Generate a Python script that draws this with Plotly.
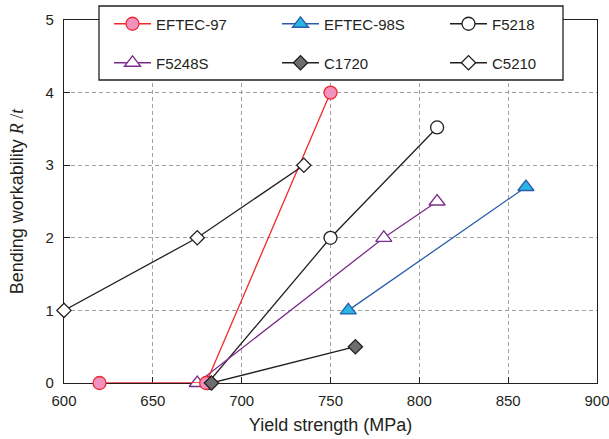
import plotly.graph_objects as go

# ---- data ----
eftec97_x = [620, 680, 750]
eftec97_y = [0, 0, 4]
eftec98s_x = [760, 860]
eftec98s_y = [1, 2.7]
f5218_x = [681, 750, 810]
f5218_y = [0, 2, 3.52]
f5248s_x = [675, 780, 810]
f5248s_y = [0, 2, 2.5]
c1720_x = [683, 764]
c1720_y = [0, 0.5]
c5210_x = [600, 675, 735]
c5210_y = [1, 2, 3]

x_ticks = [600, 650, 700, 750, 800, 850, 900]
y_ticks = [0, 1, 2, 3, 4, 5]

FONT = "Liberation Sans, Arial, sans-serif"
INK = "#231F20"

# plot area in px: x 64..597, y 20..383
L, R, T, B = 64, 12, 20, 56
pw = 609 - L - R
ph = 439 - T - B

def px_x(px):
    return (px - L) / pw

def px_y(py):
    return (439 - B - py) / ph

fig = go.Figure()

def add(name, xs, ys, line_color, symbol, fill, size, legend):
    fig.add_trace(go.Scatter(
        x=xs, y=ys, name=name, mode="lines+markers",
        line=dict(color=line_color, width=1.3),
        marker=dict(symbol=symbol, size=size, color=fill,
                    line=dict(color=line_color, width=1.3)),
        cliponaxis=False, legend=legend, showlegend=True,
    ))

add("F5218", f5218_x, f5218_y, INK, "circle", "white", 13, "legend3")
add("F5248S", f5248s_x, f5248s_y, "#7B2D8B", "triangle-up", "white", 14, "legend4")
add("EFTEC-98S", eftec98s_x, eftec98s_y, "#2A5CAA", "triangle-up", "#29B6E6", 14, "legend2")
add("EFTEC-97", eftec97_x, eftec97_y, "#EE2A2F", "circle", "#F193BE", 13, "legend")
add("C5210", c5210_x, c5210_y, INK, "diamond", "white", 11, "legend6")
add("C1720", c1720_x, c1720_y, INK, "diamond", "#6E6E6E", 11, "legend5")

leg_common = dict(
    orientation="h", xanchor="left", yanchor="middle",
    bgcolor="rgba(0,0,0,0)", borderwidth=0,
    font=dict(family=FONT, size=15, color=INK),
    itemwidth=37, visible=True,
)

col_x = [109, 277, 445]
row_y = [24, 63]
legends = {}
names = ["legend", "legend2", "legend3", "legend4", "legend5", "legend6"]
for i, nm in enumerate(names):
    legends[nm] = dict(x=px_x(col_x[i % 3]), y=px_y(row_y[i // 3]), **leg_common)

axis_common = dict(
    showline=True, linecolor=INK, linewidth=1.3, mirror=True,
    ticks="inside", ticklen=6, tickwidth=1, tickcolor=INK,
    showgrid=True, gridcolor="#A0A0A0", gridwidth=1, griddash="4px,3px",
    zeroline=False, layer="below traces", ticklabeloverflow="allow",
    tickfont=dict(family=FONT, size=15, color=INK),
    title_font=dict(family=FONT, size=18, color=INK),
)

fig.update_layout(
    width=609, height=439,
    showlegend=True,
    margin=dict(l=L, r=R, t=T, b=B, autoexpand=False),
    paper_bgcolor="white", plot_bgcolor="white",
    xaxis=dict(range=[600, 900], tickvals=x_ticks, title_text="Yield strength (MPa)",
               title_standoff=10, ticklabelstandoff=4, **axis_common),
    yaxis=dict(range=[0, 5], tickvals=y_ticks,
               title_text="Bending workability <span style='font-family:Liberation Serif'><i>R</i> /<i>t</i></span>",
               title_standoff=17, ticklabelstandoff=6, **axis_common),
    shapes=[dict(type="rect", xref="paper", yref="paper",
                 x0=px_x(99), x1=px_x(563), y0=px_y(80), y1=px_y(6),
                 line=dict(color=INK, width=1.3), fillcolor="white", layer="above")],
    **legends,
)

fig.write_html("out.html", config={"displayModeBar": False},
               post_script="document.body.style.margin='0';document.body.style.overflow='hidden';")
